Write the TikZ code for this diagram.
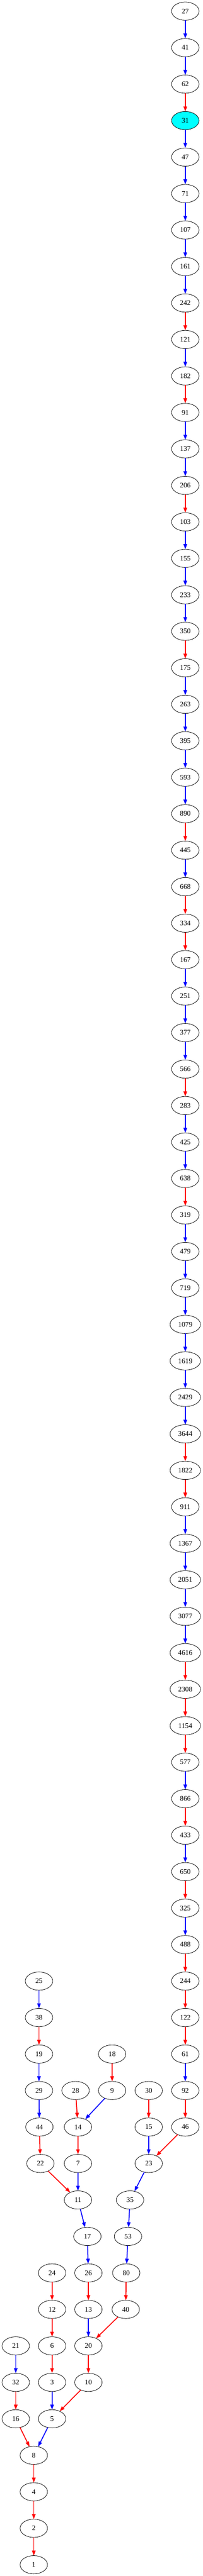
\documentclass[tikz,border=0pt]{standalone}
\usepackage{fontspec}
\setmainfont{Liberation Serif}
\usetikzlibrary{shapes.geometric,arrows.meta}
\definecolor{gvcyan}{RGB}{0,255,255}
\definecolor{gvblue}{RGB}{0,0,255}
\definecolor{gvred}{RGB}{255,0,0}
\begin{document}
\begin{tikzpicture}[
  x=1pt, y=-72pt,
  nd/.style={ellipse, draw=black, line width=0.8pt, minimum width=54pt,
    minimum height=36pt, inner sep=0pt, outer sep=0pt,
    font=\fontsize{14}{16}\selectfont},
  plain/.style={},
  wide/.style={minimum width=60pt},
  hot/.style={fill=gvcyan},
  eb/.style={draw=gvblue, line width=1.8pt, -{Triangle[length=10pt,width=7pt,fill=gvblue]}},
  er/.style={draw=gvred, line width=1.8pt, -{Triangle[length=10pt,width=7pt,fill=gvred]}},
]
\useasboundingbox (0pt,0pt) rectangle (399pt,-5084.25pt);
\begin{scope}[yshift=-22pt]
% main column
\foreach \v/\s [count=\i from 0] in {27/plain,41/plain,62/plain,31/hot,47/plain,71/plain,107/plain,161/plain,242/plain,121/plain,182/plain,91/plain,137/plain,206/plain,103/plain,155/plain,233/plain,350/plain,175/plain,263/plain,395/plain,593/plain,890/plain,445/plain,668/plain,334/plain,167/plain,251/plain,377/plain,566/plain,283/plain,425/plain,638/plain,319/plain,479/plain,719/plain,1079/wide,1619/wide,2429/wide,3644/wide,1822/wide,911/plain,1367/wide,2051/wide,3077/wide,4616/wide,2308/wide,1154/wide,577/plain,866/plain,433/plain,650/plain,325/plain,488/plain,244/plain,122/plain,61/plain,92/plain,46/plain}
  {\node[nd,\s] (n\v) at (364.75,\i) {\v};}
% other nodes
\foreach \v/\px/\r in {25/76.75/54,38/76.75/55,19/76.75/56,29/76.75/57,44/77.5/58,22/79.5/59,
  18/220.75/56,9/220.75/57,28/148.75/57,14/153.5/58,7/153.5/59,11/153.5/60,
  30/292.75/57,15/292.75/58,23/292.75/59,35/256/60,53/252/61,80/248.5/62,40/247.5/63,
  17/172/61,26/174/62,13/174/63,20/174/64,10/174/65,
  24/102.5/62,12/102.5/63,6/102.5/64,3/102.5/65,5/102.5/66,
  21/31/64,32/31/65,16/31/66,8/66.5/67,4/66.5/68,2/66.5/69,1/66.5/70}
  {\node[nd] (n\v) at (\px,\r) {\v};}
% edges
\foreach \a/\b/\c in {27/41/eb,41/62/eb,62/31/er,31/47/eb,47/71/eb,71/107/eb,107/161/eb,161/242/eb,242/121/er,121/182/eb,182/91/er,91/137/eb,137/206/eb,206/103/er,103/155/eb,155/233/eb,233/350/eb,350/175/er,175/263/eb,263/395/eb,395/593/eb,593/890/eb,890/445/er,445/668/eb,668/334/er,334/167/er,167/251/eb,251/377/eb,377/566/eb,566/283/er,283/425/eb,425/638/eb,638/319/er,319/479/eb,479/719/eb,719/1079/eb,1079/1619/eb,1619/2429/eb,2429/3644/eb,3644/1822/er,1822/911/er,911/1367/eb,1367/2051/eb,2051/3077/eb,3077/4616/eb,4616/2308/er,2308/1154/er,1154/577/er,577/866/eb,866/433/er,433/650/eb,650/325/er,325/488/eb,488/244/er,244/122/er,122/61/er,61/92/eb,92/46/er,46/23/er,
  25/38/eb,38/19/er,19/29/eb,29/44/eb,44/22/er,22/11/er,18/9/er,9/14/eb,28/14/er,14/7/er,7/11/eb,11/17/eb,17/26/eb,26/13/er,13/20/eb,20/10/er,10/5/er,
  30/15/er,15/23/eb,23/35/eb,35/53/eb,53/80/eb,80/40/er,40/20/er,
  24/12/er,12/6/er,6/3/er,3/5/eb,5/8/eb,21/32/eb,32/16/er,16/8/er,8/4/er,4/2/er,2/1/er}
  {\draw[\c] (n\a) -- (n\b);}
\end{scope}
\end{tikzpicture}
\end{document}
